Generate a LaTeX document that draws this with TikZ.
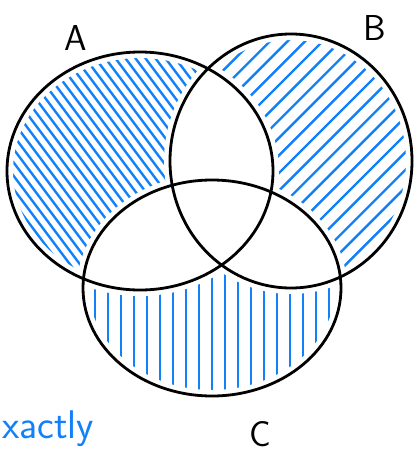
\documentclass[tikz,border=0pt]{standalone}
\usepackage{tikz}

\definecolor{penblue}{RGB}{18,128,248}
\tikzset{
  outline/.style={line width=2.8pt, black},
  gap/.style={line width=12pt, white},
  hatch/.style={line width=2.4pt, penblue, line cap=round},
  letter/.style={font=\sffamily\fontsize{36}{36}\selectfont, inner sep=0pt},
}
% the three sets
\newcommand{\setA}{(140,171) ellipse [x radius=133pt, y radius=119pt]}
\newcommand{\setB}{(291,161) ellipse [x radius=121pt, y radius=127pt]}
\newcommand{\setC}{(212,288) ellipse [x radius=129pt, y radius=108pt]}

\begin{document}
\begin{tikzpicture}[x=1pt, y=-1pt]
        \useasboundingbox (0,0) rectangle (417,453);
        % only A: steep strokes down to the right
        \begin{scope}
          \clip \setA;
          \foreach \i in {-22,...,22}
            \draw[hatch] (140+\i*6.4-120, 171-\i*4.8-160) -- ++(240,320);
          \fill[white] \setB;
          \fill[white] \setC;
        \end{scope}
        % only B: strokes down to the left
        \begin{scope}
          \clip \setB;
          \foreach \i in {-16,...,16}
            \draw[hatch] (291+\i*8.8+160, 161+\i*8.8-160) -- ++(-320,320);
          \fill[white] \setA;
          \fill[white] \setC;
        \end{scope}
        % only C: upright strokes
        \begin{scope}
          \clip \setC;
          \foreach \x in {82,95,...,350}
            \draw[hatch] (\x,270) -- (\x,410);
          \fill[white] \setA;
          \fill[white] \setB;
        \end{scope}
        % keep the strokes off the outlines
        \draw[gap] \setA;
        \draw[gap] \setB;
        \draw[gap] \setC;
        \draw[outline] \setA;
        \draw[outline] \setB;
        \draw[outline] \setC;
        % labels
        \node[letter] (labelA) at (76,38) {A};
        \node[letter] (labelB) at (375,28) {B};
        \node[letter] (labelC) at (260,434) {C};
        \node[letter, penblue, font=\sffamily\fontsize{40}{40}\selectfont, anchor=base west] (note) at (2,438) {xactly};
      \end{tikzpicture}
\end{document}
